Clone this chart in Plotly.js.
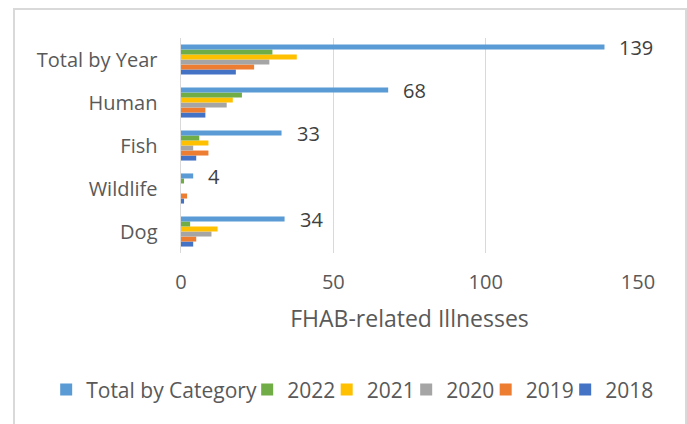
<!DOCTYPE html>
<html>
<head>
<meta charset="utf-8">
<script src="https://cdn.plot.ly/plotly-3.0.1.min.js"></script>
<style>
  html, body { margin: 0; padding: 0; background: #fff; }
  #wrap { position: relative; width: 687px; height: 424px; overflow: hidden; }
  #chart { position: absolute; left: 0; top: 0; width: 687px; height: 424px; }
  #frame { position: absolute; left: 13px; top: 8px; width: 670px; height: 430px;
           border: 2px solid #d9d9d9; pointer-events: none; }
</style>
</head>
<body>
<div id="wrap">
  <div id="chart"></div>
  <div id="frame"></div>
</div>
<script>
// Categories listed bottom-to-top
const categories = ['Dog', 'Wildlife', 'Fish', 'Human', 'Total by Year'];
const totalByCategory = [34, 4, 33, 68, 139];
const y2022 = [3, 1, 6, 20, 30];
const y2021 = [12, 0, 9, 17, 38];
const y2020 = [10, 0, 4, 15, 29];
const y2019 = [5, 2, 9, 8, 24];
const y2018 = [4, 1, 5, 8, 18];

const seriesNames = ['2018', '2019', '2020', '2021', '2022', 'Total by Category'];
const seriesValues = [y2018, y2019, y2020, y2021, y2022, totalByCategory];
const seriesColors = ['#4472C4', '#ED7D31', '#A5A5A5', '#FFC000', '#70AD47', '#5B9BD5'];
const legendWidths = [55, 34.5, 34.5, 34.5, 34.5, 156];

const FONT = '"Open Sans", Lato, sans-serif';
const FS = 20;
const TXT = '#595959';

const traces = seriesNames.map((n, i) => ({
  type: 'bar',
  orientation: 'h',
  name: n,
  y: categories,
  x: seriesValues[i],
  legendwidth: legendWidths[i],
  marker: { color: seriesColors[i], line: { width: 0 } },
  hoverinfo: 'x+name'
}));

const annotations = categories.map((c, i) => ({
  x: totalByCategory[i],
  y: c,
  xref: 'x', yref: 'y',
  text: String(totalByCategory[i]),
  showarrow: false,
  xanchor: 'left',
  yanchor: 'middle',
  xshift: 13,
  yshift: 12,
  font: { family: FONT, size: FS, color: '#404040' }
}));

const layout = {
  width: 687,
  height: 424,
  margin: { l: 181, r: 49, t: 38, b: 171, pad: 0, autoexpand: false },
  paper_bgcolor: '#ffffff',
  plot_bgcolor: '#ffffff',
  barmode: 'group',
  bargap: 0.3,
  bargroupgap: 0,
  font: { family: FONT, size: FS, color: TXT },
  showlegend: true,
  legend: {
    orientation: 'h',
    traceorder: 'reversed',
    x: -0.295, xanchor: 'left',
    y: -0.637, yanchor: 'middle',
    font: { family: FONT, size: 21, color: TXT },
    itemwidth: 30
  },
  xaxis: {
    range: [0, 150],
    tickvals: [0, 50, 100, 150],
    showgrid: true,
    gridcolor: '#d9d9d9',
    gridwidth: 1.5,
    zeroline: false,
    showline: false,
    ticks: '',
    ticklabelstandoff: 15,
    automargin: false,
    tickfont: { family: FONT, size: FS, color: TXT },
    title: { text: 'FHAB-related Illnesses', standoff: 16, font: { family: FONT, size: 23, color: TXT } }
  },
  yaxis: {
    type: 'category',
    categoryorder: 'array',
    categoryarray: categories,
    range: [-0.5, 4.5],
    autorange: false,
    showgrid: false,
    showline: true,
    linecolor: '#d9d9d9',
    linewidth: 1.5,
    ticks: '',
    ticklabelstandoff: 18,
    automargin: false,
    tickfont: { family: FONT, size: FS, color: TXT }
  },
  annotations: annotations
};

Plotly.newPlot('chart', traces, layout, { displayModeBar: false, staticPlot: true });
</script>
</body>
</html>
